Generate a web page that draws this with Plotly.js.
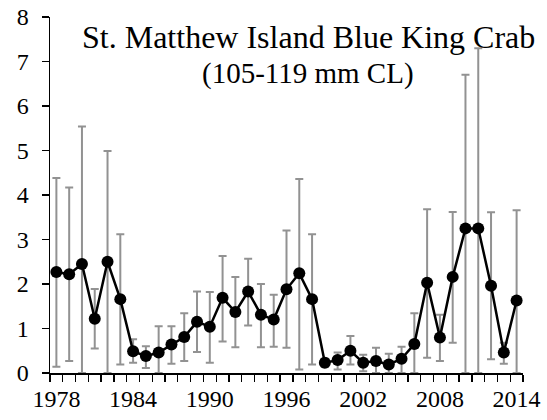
<!DOCTYPE html>
<html>
<head>
<meta charset="utf-8">
<script src="https://cdn.plot.ly/plotly-3.0.1.min.js"></script>
<style>html,body{margin:0;padding:0;background:#fff;}#chart{width:547px;height:420px;}</style>
</head>
<body>
<div id="chart"></div>
<script>
const years = [1978,1979,1980,1981,1982,1983,1984,1985,1986,1987,1988,1989,1990,1991,1992,1993,1994,1995,1996,1997,1998,1999,2000,2001,2002,2003,2004,2005,2006,2007,2008,2009,2010,2011,2012,2013,2014];
const values = [2.27,2.22,2.45,1.22,2.50,1.66,0.49,0.38,0.46,0.64,0.81,1.15,1.04,1.69,1.37,1.83,1.31,1.20,1.88,2.24,1.66,0.23,0.29,0.50,0.23,0.27,0.19,0.32,0.65,2.03,0.80,2.16,3.25,3.25,1.96,0.46,1.63];
const upper = [4.38,4.17,5.54,1.89,4.99,3.12,0.76,0.60,1.05,1.05,1.34,1.83,1.82,2.63,2.16,2.57,2.00,1.76,3.20,4.36,3.12,0.32,0.46,0.83,0.41,0.57,0.43,0.59,1.34,3.68,1.31,3.62,6.70,7.30,3.61,0.68,3.66];
const lower = [0.14,0.27,0.00,0.55,0.00,0.19,0.23,0.11,0.00,0.21,0.27,0.47,0.23,0.71,0.58,1.07,0.58,0.59,0.57,0.08,0.19,0.14,0.08,0.19,0.04,0.00,0.00,0.00,0.00,0.34,0.27,0.68,0.00,0.00,0.31,0.21,0.00];
const labeledYears = [1978,1984,1990,1996,2002,2008,2014];
const titleLine1 = "St. Matthew Island Blue King Crab";
const titleLine2 = "(105-119 mm CL)";

const errPlus = upper.map((u,i)=>Math.max(0,u-values[i]));
const errMinus = lower.map((l,i)=>Math.max(0,values[i]-l));
const boundaries = years.map(y => y - 0.5).concat([years[years.length-1] + 0.5]);

const SERIF = 'Liberation Serif';

const traces = [
  {
    x: years, y: values, type: 'scatter', mode: 'markers',
    marker: {size: 12, color: 'rgba(0,0,0,0)'},
    error_y: {type: 'data', symmetric: false, array: errPlus, arrayminus: errMinus,
              color: '#929292', thickness: 2, width: 4},
    hoverinfo: 'skip', showlegend: false, cliponaxis: false
  },
  {
    x: years, y: values, type: 'scatter', mode: 'lines+markers',
    line: {color: '#000', width: 2.5},
    marker: {size: 12, color: '#000'},
    showlegend: false, cliponaxis: false
  }
];

const layout = {
  width: 547, height: 420,
  margin: {l: 50, r: 24, t: 17, b: 47},
  paper_bgcolor: '#fff', plot_bgcolor: '#fff',
  showlegend: false,
  font: {family: SERIF, size: 24, color: '#000'},
  xaxis: {
    type: 'linear', range: [boundaries[0], boundaries[boundaries.length-1]],
    tickmode: 'array', tickvals: labeledYears, ticktext: labeledYears.map(String),
    ticks: '', ticklen: 0,
    minor: {tickmode: 'array', tickvals: boundaries, ticks: 'outside', ticklen: 7,
            tickwidth: 1.3, tickcolor: '#000', showgrid: false},
    showline: true, linecolor: '#000', linewidth: 1.5,
    showgrid: false, zeroline: false,
    tickfont: {family: SERIF, size: 24, color: '#000'},
    tickangle: 0, automargin: false, ticklabelstandoff: 4
  },
  yaxis: {
    range: [0, 8], dtick: 1, tick0: 0, tickmode: 'linear',
    ticks: 'outside', ticklen: 7, tickwidth: 1.3, tickcolor: '#000',
    showline: true, linecolor: '#000', linewidth: 1.5,
    showgrid: false, zeroline: false,
    tickfont: {family: SERIF, size: 24, color: '#000'},
    ticklabelstandoff: 8, automargin: false
  },
  annotations: [
    {text: titleLine1, xref: 'paper', yref: 'paper', x: 0.546, y: 0.944,
     xanchor: 'center', yanchor: 'middle', showarrow: false,
     font: {family: SERIF, size: 32, color: '#000'}},
    {text: titleLine2, xref: 'paper', yref: 'paper', x: 0.546, y: 0.84,
     xanchor: 'center', yanchor: 'middle', showarrow: false,
     font: {family: SERIF, size: 29, color: '#000'}}
  ]
};

Plotly.newPlot('chart', traces, layout, {displayModeBar: false, staticPlot: true});
</script>
</body>
</html>
